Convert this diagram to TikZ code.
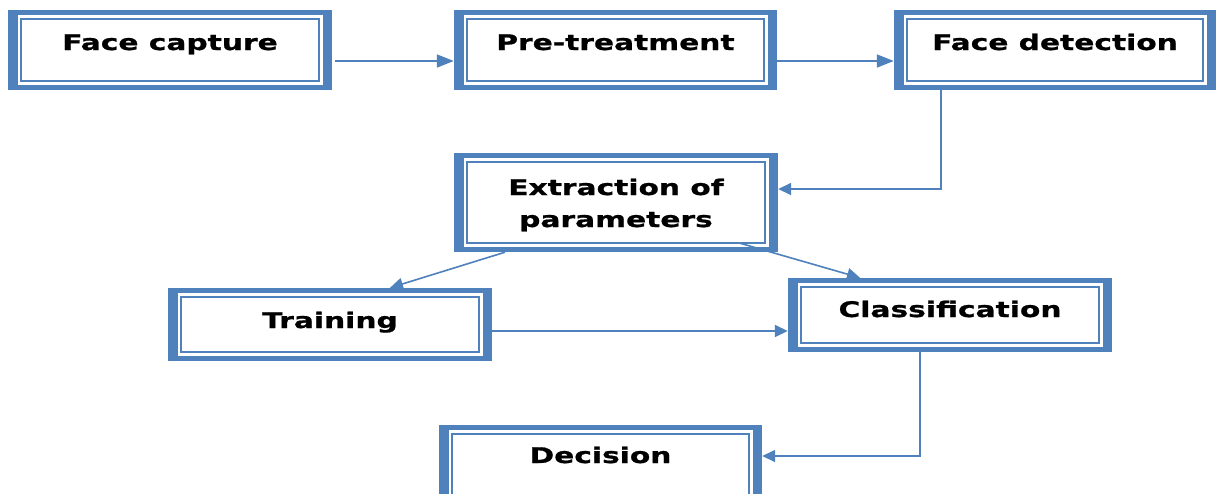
\documentclass[tikz,border=0pt]{standalone}
\usepackage{fontspec}
\newfontfamily\boxfont{DejaVu Sans}[FakeStretch=1.38, BoldFeatures={FakeBold=0.9}]
\usetikzlibrary{arrows.meta}
\definecolor{frameblue}{HTML}{4F81BD}

\tikzset{
  % thick-thin double frame: heavy outer band, white gap, thin inner rule
  stagebox/.style={rectangle, inner sep=0pt, fill=frameblue,
    path picture={
      \fill[white] ([xshift=9.5pt,yshift=5.3pt]path picture bounding box.south west)
        rectangle ([xshift=-9.5pt,yshift=-5.3pt]path picture bounding box.north east);
      \draw[frameblue,line width=1.7pt]
        ([xshift=13pt,yshift=8.8pt]path picture bounding box.south west)
        rectangle ([xshift=-13pt,yshift=-8.8pt]path picture bounding box.north east);
    }},
  boxlabel/.style={anchor=base, inner sep=0pt, align=center, text=black,
    font=\boxfont\bfseries\fontsize{21.5}{32}\selectfont},
  conn/.style={draw=frameblue, line width=1.6pt,
    -{Triangle[length=13pt,width=12pt]}},
  connlong/.style={conn, -{Triangle[length=17pt,width=13pt]}}
}

\begin{document}
\begin{tikzpicture}[x=1pt,y=-1pt]
  \useasboundingbox (0,0) rectangle (1218,493);
  \fill[white] (0,0) rectangle (1218,493);
  \clip (0,0) rectangle (1218,493);

  % stage frames
  \node[stagebox, minimum width=324pt, minimum height=80pt] (fc) at (170,50) {};
  \node[stagebox, minimum width=323pt, minimum height=80pt] (pt) at (615.5,50) {};
  \node[stagebox, minimum width=322pt, minimum height=80pt] (fd) at (1055,50) {};
  \node[stagebox, minimum width=324pt, minimum height=99pt] (ex) at (616,202.5) {};
  \node[stagebox, minimum width=324pt, minimum height=73pt] (tr) at (330,324.5) {};
  \node[stagebox, minimum width=324pt, minimum height=74pt] (cl) at (950,315) {};
  \node[stagebox, minimum width=323pt, minimum height=80pt] (de) at (600.5,465) {};

  % stage titles
  \node[boxlabel] (fct) at (fc.center) {Face capture};
  \node[boxlabel] (ptt) at (pt.center) {Pre-treatment};
  \node[boxlabel] (fdt) at (fd.center) {Face detection};
  \node[boxlabel] (ext) at ([yshift=-24.5pt]ex.center) {Extraction of\\parameters};
  \node[boxlabel] (trt) at ([yshift=-3.5pt]tr.center) {Training};
  \node[boxlabel] (clt) at ([yshift=-2pt]cl.center) {Classification};
  \node[boxlabel] (det) at ([yshift=2pt]de.center) {Decision};

  % flow
  \draw[connlong] ([xshift=3pt,yshift=-11pt]fc.east) -- ([yshift=-11pt]fc.east -| pt.west);
  \draw[connlong] ([yshift=-11pt]pt.east) -- ([yshift=-11pt]pt.east -| fd.west);
  \draw[conn] ([xshift=-114pt]fd.south) |- ([yshift=13.5pt]ex.east);
  \draw[conn] ([xshift=-111pt]ex.south) -- ([xshift=60pt]tr.north);
  \draw[conn] ([xshift=124pt,yshift=9pt]ex.south) -- ([xshift=-90pt]cl.north);
  \draw[conn] ([yshift=-6.5pt]tr.east) -- ([yshift=-6.5pt]tr.east -| cl.west);
  \draw[conn] ([xshift=-30pt]cl.south) |- ([yshift=9pt]de.east);
\end{tikzpicture}
\end{document}
